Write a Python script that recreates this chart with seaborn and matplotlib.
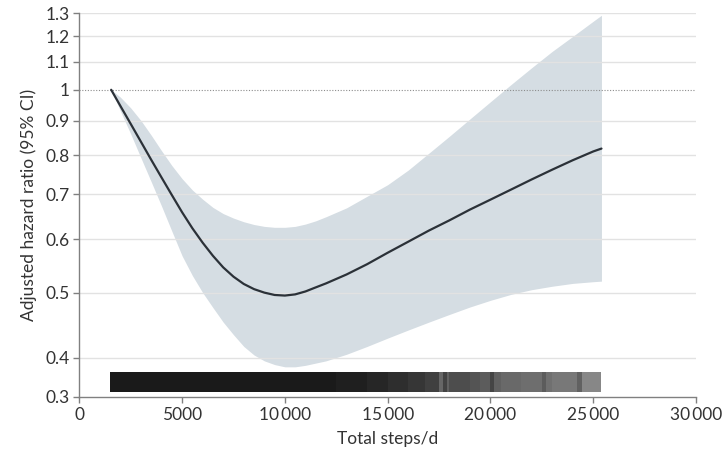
# Curva dose-resposta: passos por dia x razão de risco ajustada
import numpy as np
import matplotlib.pyplot as plt
import seaborn as sns
import pandas as pd

# Valores
passos = [1550, 2000, 2500, 3000, 3500, 4000, 4500, 5000, 5500, 6000, 6500,
          7000, 7500, 8000, 8500, 9000, 9500, 10000, 10500, 11000, 11500,
          12000, 13000, 14000, 15000, 16000, 17000, 18000, 19000, 20000,
          21000, 22000, 23000, 24000, 25000, 25400]
hr = [1.0, 0.946, 0.89, 0.837, 0.787, 0.741, 0.698, 0.658, 0.623, 0.593, 0.567,
      0.545, 0.528, 0.515, 0.506, 0.500, 0.496, 0.495, 0.497, 0.502, 0.509,
      0.516, 0.532, 0.551, 0.573, 0.595, 0.618, 0.640, 0.664, 0.687,
      0.711, 0.736, 0.761, 0.786, 0.810, 0.818]
ic_inf = [1.0, 0.93, 0.86, 0.792, 0.73, 0.672, 0.617, 0.567, 0.53, 0.50, 0.475,
          0.452, 0.433, 0.416, 0.404, 0.396, 0.391, 0.388, 0.388, 0.39, 0.393,
          0.396, 0.405, 0.416, 0.428, 0.44, 0.452, 0.464, 0.476, 0.487,
          0.497, 0.505, 0.511, 0.516, 0.519, 0.52]
ic_sup = [1.0, 0.975, 0.94, 0.90, 0.856, 0.812, 0.772, 0.738, 0.71, 0.688, 0.669,
          0.655, 0.645, 0.637, 0.631, 0.627, 0.625, 0.625, 0.627, 0.632, 0.639,
          0.648, 0.668, 0.695, 0.723, 0.76, 0.805, 0.853, 0.905, 0.96,
          1.018, 1.078, 1.14, 1.20, 1.264, 1.29]

# faixa de distribuição (tons de cinza por intervalo de passos)
rug_bordas = [1500, 12500, 14000, 15000, 16000, 16800, 17500, 17700, 17900, 18000,
              19000, 19500, 20000, 20150, 20500, 21500, 22500, 22700, 23000,
              24200, 24450, 25400]
rug_cinza = [0.10, 0.12, 0.15, 0.18, 0.21, 0.25, 0.40, 0.26, 0.38, 0.30,
             0.33, 0.36, 0.27, 0.38, 0.41, 0.43, 0.36, 0.44, 0.47, 0.38, 0.53]

yticks = [0.35, 0.4, 0.5, 0.6, 0.7, 0.8, 0.9, 1.0, 1.1, 1.2, 1.3]
ylabels = ["0.3", "0.4", "0.5", "0.6", "0.7", "0.8", "0.9", "1", "1.1", "1.2", "1.3"]
xticks = [0, 5000, 10000, 15000, 20000, 25000, 30000]
xlabels = ["0", "5000", "10\u2009000", "15\u2009000", "20\u2009000", "25\u2009000", "30\u2009000"]

df = pd.DataFrame({"passos": passos, "hr": hr})

sns.set_theme(style="white")
plt.rcParams["font.family"] = ["Lato", "DejaVu Sans"]

fig = plt.figure(figsize=(7.23, 4.58), dpi=100)
ax = fig.add_axes([0.1097, 0.1332, 0.853, 0.8384])

ax.fill_between(passos, ic_inf, ic_sup, color="#d5dde3", lw=0, zorder=1)

# linhas de grade
for y in yticks[1:]:
    if y == 1.0:
        ax.axhline(y, color="#8c8c8c", lw=0.8, ls=(0, (1, 1.5)), zorder=2)
    else:
        ax.axhline(y, color="#e2e2e2", lw=1, zorder=2)

sns.lineplot(data=df, x="passos", y="hr", ax=ax, color="#2b3138", lw=1.6, zorder=3)

# faixa tipo "código de barras"
esq = rug_bordas[:-1]
larg = np.diff(rug_bordas)
ax.bar(esq, 0.3816 - 0.3564, width=larg, bottom=0.3564, align="edge",
       color=[str(g) for g in rug_cinza], lw=0, zorder=3)

ax.set_yscale("log")
ax.set_ylim(0.35, 1.3)
ax.set_xlim(0, 30000)
ax.minorticks_off()
ax.set_yticks(yticks)
ax.set_yticklabels(ylabels)
ax.set_xticks(xticks)
ax.set_xticklabels(xlabels)

for lado in ["top", "right"]:
    ax.spines[lado].set_visible(False)
for lado in ["left", "bottom"]:
    ax.spines[lado].set_color("#808080")
    ax.spines[lado].set_linewidth(1)

ax.tick_params(bottom=True, left=True, direction="out", length=4, width=1,
               color="#808080", labelsize=12.5, labelcolor="#333333", pad=3)
ax.set_xlabel("Total steps/d", fontsize=12.5, color="#333333", labelpad=6)
ax.set_ylabel("Adjusted hazard ratio (95% CI)", fontsize=12.5, color="#333333", labelpad=6)

fig.savefig("out.png", dpi=100)
